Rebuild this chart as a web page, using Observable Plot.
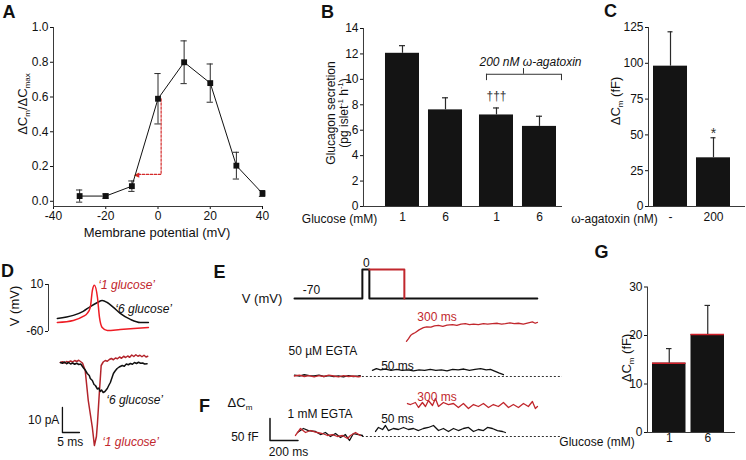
<!DOCTYPE html>
<html><head><meta charset="utf-8">
<script src="https://cdn.jsdelivr.net/npm/d3@7"></script>
<script src="https://cdn.jsdelivr.net/npm/@observablehq/plot@0.6"></script>
<style>
html,body{margin:0;padding:0;background:#fff;}
#fig{position:relative;width:746px;height:460px;overflow:hidden;font-family:Arial,"Liberation Sans",Helvetica,sans-serif;color:#111;background:#fff;}
.lbl{position:absolute;white-space:nowrap;line-height:1;transform-origin:center center;}
.lbl sub,.lbl sup{font-size:62%;line-height:0;}
</style></head><body><div id="fig"></div>
<script>
// ---------------- DATA ----------------
// Panel A: normalised exocytosis vs membrane potential
const aVoltage = [-30, -20, -10, 0, 10, 20, 30, 40];
const aCapRatio = [0.03, 0.03, 0.087, 0.59, 0.80, 0.68, 0.205, 0.045];
const aCapSem = [0.035, 0.012, 0.03, 0.145, 0.123, 0.11, 0.077, 0.017];
const aArrowVoltage = [1.2, 1.2, -7.5];
const aArrowRatio = [0.59, 0.155, 0.155];
const aXTicks = [-40, -20, 0, 20, 40];
const aYTicks = [0, 0.2, 0.4, 0.6, 0.8, 1.0];

// Panel B: glucagon secretion
const bGroup = ["control", "control", "agatoxin", "agatoxin"];
const bGlucose = ["1", "6", "1", "6"];
const bSecretion = [12.05, 7.6, 7.2, 6.3];
const bSem = [0.6, 0.95, 0.55, 0.8];
const bYTicks = [0, 2, 4, 6, 8, 10, 12, 14];
const bBraceText = "200 nM \u03c9-agatoxin";
const bSignificance = "\u2020\u2020\u2020";

// Panel C: agatoxin on exocytosis
const cAgatoxin = ["-", "200"];
const cDeltaCm = [98, 34];
const cSem = [24, 14];
const cYTicks = [0, 25, 50, 75, 100, 125];

// Panel G: exocytosis at 1 and 6 mM glucose
const gGlucose = ["1", "6"];
const gDeltaCm = [14.3, 20.2];
const gSem = [3.0, 6.0];
const gYTicks = [0, 10, 20, 30];

// Panel D: action potentials (ms, mV)
const dApRedTime = [0, 4.7, 7.6, 8.8, 9.7, 10.3, 10.9, 11.8, 12.4, 13.2, 14.7, 18.5, 22.5, 26.8];
const dApRed = [-46.6, -43.6, -37.6, -33, -24, 1, 9, -9, -39, -54, -58.5, -57, -55.5, -54];
const dApBlackTime = [0, 4.7, 7.6, 9.7, 11.8, 13.2, 14.7, 16.5, 18.5, 21.5, 24.4, 26.8];
const dApBlack = [-40.6, -36, -30, -22.8, -16.8, -13.8, -16.8, -24, -33, -42, -46.6, -46.6];
const dApTicks = [10, -60];
// Panel D: currents (ms, pA)
const dCurRedTime = [0.9,1.5,2.1,2.7,3.3,3.9,4.5,5.1,5.7,6.3,6.9,7.4,8.2,9.1,10.3,10.9,11.5,11.8,12.4,12.9,13.5,14.1,14.7,15.3,15.9,16.5,17.1,17.7,18.3,18.9,19.5,20.1,20.7,21.3,21.9,22.5,23.1,23.7,24.3,24.9,25.5,26.1,26.6];
const dCurRed = [0,0.3,-0.2,0.4,0.1,0.6,0.2,0.8,0.4,0.9,0.3,-0.2,-3.2,-15.2,-26,-33.2,-29.6,-24.4,-11.2,-1.2,0.2,0.8,0.5,1.2,1.6,1.1,1.8,1.5,2.2,1.7,2.5,2.0,2.6,2.1,3.0,2.4,3.1,2.5,2.9,2.3,2.9,2.2,2.5];
const dCurBlackTime = [0.9,1.5,2.1,2.7,3.3,3.9,4.5,5.1,5.7,6.3,6.9,7.6,8.2,8.8,9.4,9.7,10.3,10.8,11.2,11.8,12.2,12.6,13.0,13.5,14.0,14.7,15.2,15.6,16.1,16.5,17.0,17.6,18.2,19.1,19.7,20.3,20.9,21.5,22.1,22.7,23.3,23.9,24.5,25.1,25.7,26.4];
const dCurBlack = [0,-0.3,0.2,-0.5,0,-0.6,-0.2,-0.7,-0.3,-0.8,-0.6,-2,-3.0,-4.4,-5.2,-6.4,-7.2,-8.8,-9.2,-10.6,-10.2,-11.6,-11.0,-12,-11.6,-10.4,-9.0,-8,-6.0,-4.4,-3.4,-2.4,-1.8,-1.2,-1.5,-0.6,-0.9,-0.4,-0.7,0,-0.4,0.1,-0.3,-0.2,-0.6,-0.5];

// Panel E: voltage protocol (ms, mV)
const eProtoBlackTime = [0, 485, 485, 535, 535, 1735];
const eProtoBlack = [-70, -70, 0, 0, -70, -70];
const eProtoRedTime = [535, 785, 785];
const eProtoRed = [0, 0, -70];
// Panel E: capacitance, 50 uM EGTA (ms, fF)
const ePreTime = [0, 35, 70, 105, 140, 175, 210, 245, 280, 315, 350, 385, 420, 455, 470];
const ePreRed = [1, 3, 0, 2, -1, 2, 0, 3, 1, -1, 2, 0, 1, -1, 0];
const ePreBlack = [3, 1, 4, 2, 1, 3, 0, 2, 0, 1, -1, 2, 0, 1, 2];
const eBlackTime = [557,585,615,650,690,730,770,810,850,890,930,970,1010,1050,1090,1130,1170,1210,1250,1290,1330,1370,1400,1430,1460,1493];
const eBlackCap = [14,18,15,17,14,16,14,15,13,15,14,16,14,15,13,16,15,17,14,16,18,15,16,12,8,4];
const eRedTime = [800,815,829,845,864,890,921,945,975,1000,1029,1060,1090,1129,1160,1190,1221,1250,1280,1314,1350,1380,1414,1450,1480,1507,1540,1570,1600,1635,1671,1700,1720,1736];
const eRedCap = [80,86,93,97,100,106,111,113,112,115,116,114,117,118,116,119,120,118,119,118,120,119,120,121,119,120,122,120,121,119,122,124,121,123];
// Panel F: capacitance, 1 mM EGTA (ms, fF)
const fPreRedTime = [7, 43, 79, 114, 164, 200, 236, 271, 307, 343, 379, 400, 436, 471];
const fPreRed = [2.3, 18.2, 9.1, 13.6, 9.1, 6.8, 2.3, 4.5, 0, 2.3, -4.5, 2.3, 9.1, 2.3];
const fPreBlackTime = [21, 64, 100, 150, 186, 221, 257, 293, 329, 364, 393, 421, 457, 486];
const fPreBlack = [9.1, 18.2, 13.6, 11.4, 4.5, 9.1, 0, 6.8, -2.3, 4.5, -9.1, 6.8, 4.5, 2.3];
const fBlackTime = [579,600,629,650,671,707,743,779,814,850,886,921,957,993,1029,1064,1100,1136,1171,1207,1243,1279,1314,1350,1379,1414,1450,1486,1507];
const fBlackCap = [11.4,20.5,15.9,25,13.6,18.2,15.9,20.5,15.9,18.2,13.6,18.2,20.5,25,13.6,18.2,11.4,18.2,13.6,18.2,20.5,11.4,15.9,13.6,20.5,18.2,13.6,11.4,9.1];
const fRedTime = [807,829,864,886,914,936,957,986,1007,1029,1064,1100,1136,1171,1207,1243,1279,1314,1350,1386,1421,1457,1493,1529,1564,1600,1636,1671,1700,1721,1736];
const fRedCap = [75,72.7,77.3,65.9,77.3,68.2,81.8,70.5,86.4,68.2,77.3,72.7,75,65.9,75,63.6,72.7,68.2,75,65.9,72.7,68.2,77.3,65.9,72.7,65.9,75,68.2,79.5,63.6,68.2];
const eStepOnset = 485, eTraceEnd = 1915;

// ---------------- HELPERS ----------------
const FONT = 'Arial, "Liberation Sans", Helvetica, sans-serif';
const fig = document.getElementById("fig");
const INK = "#111", AX = "#3a3a3a", ERR = "#2a2a2a";
const RED = "#c1272d", APRED = "#ee1c24", ARROWRED = "#d42a2a", TOPRED = "#d0202a";
const baseStyle = {fontFamily: FONT, fontSize: "12px", color: INK, background: "transparent", overflow: "visible"};
const zip = (xs, ys) => xs.map((x, i) => ({x, y: ys[i]}));

function mount(svg, left, top) {
  Object.assign(svg.style, {position: "absolute", left: left + "px", top: top + "px",
    background: "transparent", overflow: "visible", maxWidth: "none"});
  fig.appendChild(svg);
}
function label(html, cx, cy, o = {}) {
  const el = document.createElement("div");
  el.className = "lbl";
  el.innerHTML = html;
  el.style.left = cx + "px";
  el.style.top = cy + "px";
  el.style.fontSize = (o.size || 12) + "px";
  if (o.bold) el.style.fontWeight = "bold";
  if (o.italic) el.style.fontStyle = "italic";
  if (o.color) el.style.color = o.color;
  el.style.transform = "translate(-50%,-50%)" + (o.rotate ? ` rotate(${o.rotate}deg)` : "");
  fig.appendChild(el);
}

// ---------------- PANEL A ----------------
const aData = aVoltage.map((v, i) => ({v, r: aCapRatio[i], e: aCapSem[i]}));
const aArrow = zip(aArrowVoltage, aArrowRatio);
mount(Plot.plot({
  width: 270, height: 240, marginLeft: 53, marginRight: 8, marginTop: 27, marginBottom: 34,
  style: baseStyle,
  x: {domain: [-40, 40], ticks: aXTicks, tickFormat: d => String(d), tickSize: 3, tickPadding: 2, label: null},
  y: {domain: [-0.03, 1.0], ticks: aYTicks, tickFormat: d => d.toFixed(1), tickSize: 3, tickPadding: 2, label: null},
  marks: [
    Plot.ruleX([-40], {stroke: AX}),
    Plot.ruleY([-0.03], {stroke: AX}),
    Plot.line(aArrow, {x: "x", y: "y", stroke: ARROWRED, strokeWidth: 1.2, strokeDasharray: "2.5,1.5"}),
    Plot.text([aArrow[aArrow.length - 1]], {x: "x", y: "y", text: () => "\u25c0", fill: ARROWRED, fontSize: 7, dx: -2}),
    Plot.ruleX(aData, {x: "v", y1: d => d.r - d.e, y2: d => d.r + d.e, stroke: ERR}),
    Plot.ruleY(aData, {y: d => d.r + d.e, x1: d => d.v - 1.2, x2: d => d.v + 1.2, stroke: ERR}),
    Plot.ruleY(aData, {y: d => d.r - d.e, x1: d => d.v - 1.2, x2: d => d.v + 1.2, stroke: ERR}),
    Plot.line(aData, {x: "v", y: "r", stroke: INK, strokeWidth: 1}),
    Plot.dot(aData, {x: "v", y: "r", symbol: "square", r: 3.3, fill: INK, stroke: null})
  ]
}), 0, 0);

// ---------------- PANEL B ----------------
const bData = bGlucose.map((g, i) => ({key: g + " " + bGroup[i], g, grp: bGroup[i], v: bSecretion[i], e: bSem[i]}));
const bKeys = bData.map(d => d.key);
const groupShift = {control: -4, agatoxin: 4};
const bMarks = [Plot.ruleY([0], {stroke: AX}), Plot.ruleX([bKeys[0]], {x: d => d, dx: -43, stroke: AX})];
for (const grp of ["control", "agatoxin"]) {
  const sub = bData.filter(d => d.grp === grp), dx = groupShift[grp];
  bMarks.push(
    Plot.barY(sub, {x: "key", y: "v", fill: "#141414", dx}),
    Plot.ruleX(sub, {x: "key", y1: "v", y2: d => d.v + d.e, stroke: ERR, strokeWidth: 1.2, dx}),
    Plot.tickY(sub, {x: "key", y: d => d.v + d.e, stroke: ERR, strokeWidth: 1.2, insetLeft: 14, insetRight: 14, dx}),
    Plot.text(sub, {x: "key", text: "g", frameAnchor: "bottom", dy: 14, dx, fontSize: 12, fill: INK})
  );
}
const agaKeys = bData.filter(d => d.grp === "agatoxin").map(d => d.key);
bMarks.push(
  Plot.ruleY([10.4], {y: d => d, x1: () => agaKeys[0], x2: () => agaKeys[1], insetLeft: 11, insetRight: -9, stroke: "#333"}),
  Plot.ruleX([agaKeys[0]], {x: d => d, y1: 9.9, y2: 10.4, dx: -6, stroke: "#333"}),
  Plot.ruleX([agaKeys[1]], {x: d => d, y1: 9.9, y2: 10.4, dx: 26, stroke: "#333"}),
  Plot.ruleX([agaKeys[0]], {x: d => d, y1: 10.4, y2: 10.85, dx: 31, stroke: "#333"}),
  Plot.text([agaKeys[0]], {x: d => d, y: 11.35, text: () => bBraceText, dx: 38, fontStyle: "italic", fontSize: 12, fill: INK}),
  Plot.text([agaKeys[0]], {x: d => d, y: 8.7, text: () => bSignificance, dx: 4, fontSize: 12, fill: "#333"})
);
mount(Plot.plot({
  width: 285, height: 240, marginLeft: 73, marginRight: 13, marginTop: 28, marginBottom: 34,
  style: baseStyle,
  x: {type: "band", domain: bKeys, paddingInner: 0.209, paddingOuter: 0.4186, align: 0.722, round: false, axis: null},
  y: {domain: [0, 14], ticks: bYTicks, tickSize: 3, tickPadding: 2, label: null},
  marks: bMarks
}), 290, 0);

// ---------------- PANEL C ----------------
const cData = cAgatoxin.map((a, i) => ({a, v: cDeltaCm[i], e: cSem[i]}));
mount(Plot.plot({
  width: 156, height: 240, marginLeft: 58, marginRight: 1, marginTop: 27, marginBottom: 34,
  style: baseStyle,
  x: {type: "band", domain: cAgatoxin, paddingInner: 0.209, paddingOuter: 0.2326, align: 0.25, round: false, axis: null},
  y: {domain: [0, 125], ticks: cYTicks, tickSize: 3, tickPadding: 2, label: null},
  marks: [
    Plot.ruleY([0], {stroke: AX}),
    Plot.ruleX([cAgatoxin[0]], {x: d => d, dx: -22, stroke: AX}),
    Plot.barY(cData, {x: "a", y: "v", fill: "#141414"}),
    Plot.ruleX(cData, {x: "a", y1: "v", y2: d => d.v + d.e, stroke: ERR, strokeWidth: 1.2}),
    Plot.tickY(cData, {x: "a", y: d => d.v + d.e, stroke: ERR, strokeWidth: 1.2, insetLeft: 14.5, insetRight: 14.5}),
    Plot.text(cData, {x: "a", text: "a", frameAnchor: "bottom", dy: 14, fontSize: 12, fill: INK}),
    Plot.text([cAgatoxin[1]], {x: d => d, y: 51, text: () => "*", fontSize: 14, fill: "#333"})
  ]
}), 590, 0);

// ---------------- PANEL G ----------------
const gData = gGlucose.map((g, i) => ({g, v: gDeltaCm[i], e: gSem[i]}));
mount(Plot.plot({
  width: 156, height: 200, marginLeft: 57, marginRight: 11, marginTop: 26.5, marginBottom: 28,
  style: baseStyle,
  x: {type: "band", domain: gGlucose, paddingInner: 0.13, paddingOuter: 0.208, align: 0.3125, round: false, axis: null},
  y: {domain: [0, 30], ticks: gYTicks, tickSize: 3, tickPadding: 2, label: null},
  marks: [
    Plot.ruleY([0], {stroke: AX}),
    Plot.ruleX([gGlucose[0]], {x: d => d, dx: -21.75, stroke: AX}),
    Plot.barY(gData, {x: "g", y: "v", fill: "#141414"}),
    Plot.tickY(gData, {x: "g", y: "v", stroke: TOPRED, strokeWidth: 1.5}),
    Plot.ruleX(gData, {x: "g", y1: "v", y2: d => d.v + d.e, stroke: ERR, strokeWidth: 1.2}),
    Plot.tickY(gData, {x: "g", y: d => d.v + d.e, stroke: ERR, strokeWidth: 1.2, insetLeft: 14, insetRight: 14}),
    Plot.text(gData, {x: "g", text: "g", frameAnchor: "bottom", dy: 9, fontSize: 12, fill: INK})
  ]
}), 590, 260);

// ---------------- PANEL D ----------------
mount(Plot.plot({
  width: 160, height: 70, marginLeft: 48, marginRight: 11.4, marginTop: 14, marginBottom: 9,
  style: baseStyle,
  x: {domain: [-2.6, 27], axis: null},
  y: {domain: [-60, 10], ticks: dApTicks, tickFormat: d => String(d), tickSize: 3, tickPadding: 2, label: null},
  marks: [
    Plot.ruleX([-2.6], {stroke: AX}),
    Plot.line(zip(dApBlackTime, dApBlack), {x: "x", y: "y", stroke: INK, strokeWidth: 1.5, curve: "monotone-x"}),
    Plot.line(zip(dApRedTime, dApRed), {x: "x", y: "y", stroke: APRED, strokeWidth: 1.5, curve: "monotone-x"}),
    Plot.text([{x: 12.06, y: 8.5}], {x: "x", y: "y", text: () => "\u20181 glucose\u2019", textAnchor: "start", fontStyle: "italic", fontSize: 12, fill: RED}),
    Plot.text([{x: 17.06, y: -27.2}], {x: "x", y: "y", text: () => "\u20186 glucose\u2019", textAnchor: "start", fontStyle: "italic", fontSize: 12, fill: INK})
  ]
}), 0, 270);

mount(Plot.plot({
  width: 160, height: 120, marginLeft: 48, marginRight: 11.4, marginTop: 12, marginBottom: 3,
  style: baseStyle,
  x: {domain: [-2.6, 27], axis: null},
  y: {domain: [-38, 4], axis: null},
  marks: [
    Plot.line(zip(dCurRedTime, dCurRed), {x: "x", y: "y", stroke: "#b3242b", strokeWidth: 1.5}),
    Plot.line(zip(dCurBlackTime, dCurBlack), {x: "x", y: "y", stroke: INK, strokeWidth: 1.5}),
    Plot.line([{x: 1.5, y: -18}, {x: 1.5, y: -28}, {x: 6.5, y: -28}], {x: "x", y: "y", stroke: INK, strokeWidth: 1.3}),
    Plot.text([{x: 0.6, y: -23.2}], {x: "x", y: "y", text: () => "10 pA", textAnchor: "end", fontSize: 12, fill: INK}),
    Plot.text([{x: 3.8, y: -32}], {x: "x", y: "y", text: () => "5 ms", fontSize: 12, fill: INK}),
    Plot.text([{x: 14.4, y: -15.2}], {x: "x", y: "y", text: () => "\u20186 glucose\u2019", textAnchor: "start", fontStyle: "italic", fontSize: 12, fill: INK}),
    Plot.text([{x: 13.2, y: -32}], {x: "x", y: "y", text: () => "\u20181 glucose\u2019", textAnchor: "start", fontStyle: "italic", fontSize: 12, fill: RED})
  ]
}), 0, 340);

// ---------------- PANELS E / F ----------------
const efX = {domain: [-200, 1915], axis: null};
mount(Plot.plot({
  width: 320, height: 50, marginLeft: 16, marginRight: 8, marginTop: 14, marginBottom: 7,
  style: baseStyle, x: efX, y: {domain: [-70, 0], axis: null},
  marks: [
    Plot.line(zip(eProtoBlackTime, eProtoBlack), {x: "x", y: "y", stroke: INK, strokeWidth: 2}),
    Plot.line(zip(eProtoRedTime, eProtoRed), {x: "x", y: "y", stroke: RED, strokeWidth: 2}),
    Plot.text([{x: 121, y: -50.7}], {x: "x", y: "y", text: () => "-70", fontSize: 12, fill: INK}),
    Plot.text([{x: 514, y: 14.5}], {x: "x", y: "y", text: () => "0", fontSize: 12, fill: INK})
  ]
}), 250, 255);

mount(Plot.plot({
  width: 320, height: 90, marginLeft: 16, marginRight: 8, marginTop: 2, marginBottom: 2,
  style: baseStyle, x: efX, y: {domain: [-27.3, 168.2], axis: null},
  marks: [
    Plot.ruleY([0], {x1: eStepOnset, x2: eTraceEnd, stroke: "#333", strokeDasharray: "2,2"}),
    Plot.line(zip(ePreTime, ePreBlack), {x: "x", y: "y", stroke: INK, strokeWidth: 1.4}),
    Plot.line(zip(ePreTime, ePreRed), {x: "x", y: "y", stroke: RED, strokeWidth: 1.4}),
    Plot.line(zip(eBlackTime, eBlackCap), {x: "x", y: "y", stroke: INK, strokeWidth: 1.3}),
    Plot.line(zip(eRedTime, eRedCap), {x: "x", y: "y", stroke: RED, strokeWidth: 1.3}),
    Plot.text([{x: 1018, y: 134}], {x: "x", y: "y", text: () => "300 ms", fontSize: 12, fill: RED}),
    Plot.text([{x: 736, y: 23}], {x: "x", y: "y", text: () => "50 ms", fontSize: 12, fill: INK}),
    Plot.text([{x: -43, y: 57}], {x: "x", y: "y", text: () => "50 \u00b5M EGTA", textAnchor: "start", fontSize: 12, fill: INK})
  ]
}), 250, 300);

mount(Plot.plot({
  width: 320, height: 75, marginLeft: 16, marginRight: 8, marginTop: 2, marginBottom: 2,
  style: baseStyle, x: efX, y: {domain: [-50, 111.4], axis: null},
  marks: [
    Plot.ruleY([0], {x1: eStepOnset, x2: eTraceEnd, stroke: "#333", strokeDasharray: "2,2"}),
    Plot.line(zip(fPreBlackTime, fPreBlack), {x: "x", y: "y", stroke: INK, strokeWidth: 1.3}),
    Plot.line(zip(fPreRedTime, fPreRed), {x: "x", y: "y", stroke: RED, strokeWidth: 1.3}),
    Plot.line(zip(fBlackTime, fBlackCap), {x: "x", y: "y", stroke: INK, strokeWidth: 1.3}),
    Plot.line(zip(fRedTime, fRedCap), {x: "x", y: "y", stroke: RED, strokeWidth: 1.3}),
    Plot.line([{x: -175, y: 41}, {x: -175, y: -9}, {x: 25, y: -9}], {x: "x", y: "y", stroke: INK, strokeWidth: 1.5}),
    Plot.text([{x: 1018, y: 88.6}], {x: "x", y: "y", text: () => "300 ms", fontSize: 12, fill: RED}),
    Plot.text([{x: 736, y: 38.6}], {x: "x", y: "y", text: () => "50 ms", fontSize: 12, fill: INK}),
    Plot.text([{x: -50, y: 50}], {x: "x", y: "y", text: () => "1 mM EGTA", textAnchor: "start", fontSize: 12, fill: INK}),
    Plot.text([{x: -43, y: -36}], {x: "x", y: "y", text: () => "200 ms", fontSize: 12, fill: INK}),
    Plot.text([{x: -257, y: -2}], {x: "x", y: "y", text: () => "50 fF", textAnchor: "end", fontSize: 12, fill: INK})
  ]
}), 250, 385);

// ---------------- TEXT LABELS ----------------
label("A", 9, 11.5, {size: 18, bold: true});
label("B", 327.5, 11.5, {size: 18, bold: true});
label("C", 610.5, 11, {size: 18, bold: true});
label("D", 7.5, 270.5, {size: 18, bold: true});
label("E", 219.5, 271.5, {size: 18, bold: true});
label("F", 204.5, 406, {size: 18, bold: true});
label("G", 601.5, 251.5, {size: 18, bold: true});

label("\u0394C<sub>m</sub>/\u0394C<sub>max</sub>", 22, 104, {size: 13, rotate: -90});
label("Membrane potential (mV)", 157, 232, {size: 13});
label("Glucagon secretion", 330.5, 113, {size: 12, rotate: -90});
label("(pg islet<sup>-1</sup> h<sup>-1</sup>)", 344, 113, {size: 12, rotate: -90});
label("Glucose (mM)", 339.5, 219, {size: 12});
label("\u0394C<sub>m</sub> (fF)", 615, 101, {size: 13, rotate: -90});
label("\u03c9-agatoxin (nM)", 614.5, 219, {size: 12});
label("V (mV)", 14, 306, {size: 13, rotate: -90});
label("V (mV)", 262, 298, {size: 13});
label("\u0394C<sub>m</sub>", 240, 402, {size: 13});
label("\u0394C<sub>m</sub> (fF)", 626, 358, {size: 13, rotate: -90});
label("Glucose (mM)", 597, 442, {size: 12});
</script></body></html>
